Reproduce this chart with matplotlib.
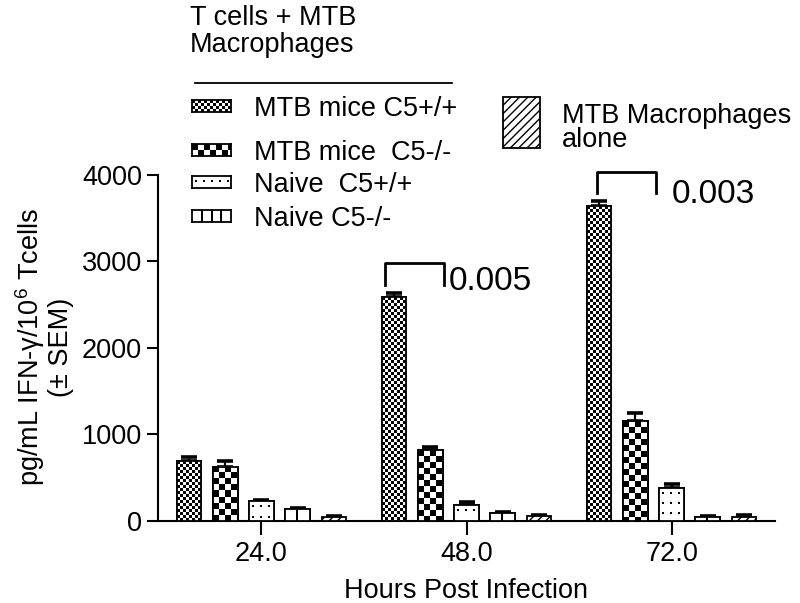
import numpy as np
import matplotlib
matplotlib.use('Agg')
import matplotlib.pyplot as plt
from matplotlib.patches import Rectangle
from matplotlib.lines import Line2D

plt.rcParams['font.family'] = ['Liberation Sans', 'DejaVu Sans']
plt.rcParams['mathtext.fontset'] = 'custom'
plt.rcParams['mathtext.rm'] = 'Liberation Sans'
plt.rcParams['mathtext.it'] = 'Liberation Sans:italic'
plt.rcParams['hatch.linewidth'] = 1.0

# ---------------- data ----------------
hours = [24, 48, 72]
hour_labels = ["24.0", "48.0", "72.0"]
series_names = ["MTB mice C5+/+", "MTB mice  C5-/-", "Naive  C5+/+", "Naive C5-/-"]
alone_name = ["MTB Macrophages", "alone"]
legend_title = ["T cells + MTB", "Macrophages"]
mtb_c5pos = [691, 2585, 3640]
mtb_c5neg = [625, 818, 1157]
naive_c5pos = [224, 185, 377]
naive_c5neg = [132, 89, 39]
macro_alone = [39, 54, 46]
sem_mtb_c5pos = [42, 53, 60]
sem_mtb_c5neg = [66, 35, 93]
sem_naive_c5pos = [19, 35, 45]
sem_naive_c5neg = [15, 15, 15]
sem_macro_alone = [15, 8, 16]
y_ticks = [0, 1000, 2000, 3000, 4000]
p_values = ["0.005", "0.003"]

FS = 19.5
W, H = 800, 603
fig = plt.figure(figsize=(W / 100, H / 100), dpi=100)


def fx(px):
    return px / W


def fy(py):
    return 1 - py / H


ax = fig.add_axes([fx(158), fy(520.7), fx(775) - fx(158), fy(175) - fy(520.7)])
ax.set_xlim(11.9, 84.1)
ax.set_ylim(0, 4000)
ax.set_autoscale_on(False)


# ---------------- fill patterns ----------------
def checker(h, w, s):
    i = np.arange(h)[:, None]
    j = np.arange(w)[None, :]
    return (((i // s) + (j // s)) % 2).astype(float)


def fine_checker(h, w):
    return checker(h, w, 3)


def big_checker(h, w):
    return checker(h, w, 6)


def dots(h, w, sx=8, sy=10):
    a = np.ones((h, w))
    for i in range(4, h - 2, sy):
        for j in range(3, w - 2, sx):
            a[i:i + 2, j:j + 2] = 0
    return a


def vlines_bar(h, w):
    a = np.ones((h, w))
    c = w // 2
    a[:, c - 1:c + 1] = 0
    return a


def vlines_legend(h, w):
    a = np.ones((h, w))
    for f in (0.25, 0.5, 0.75):
        c = int(round(w * f))
        a[:, c - 1:c + 1] = 0
    return a


pitch = 4.24
width = 2.89
series = [
    (mtb_c5pos, sem_mtb_c5pos, fine_checker),
    (mtb_c5neg, sem_mtb_c5neg, big_checker),
    (naive_c5pos, sem_naive_c5pos, dots),
    (naive_c5neg, sem_naive_c5neg, vlines_bar),
    (macro_alone, sem_macro_alone, None),
]

for k, (vals, errs, pat) in enumerate(series):
    xs = np.array(hours, dtype=float) + (k - 2) * pitch
    ax.errorbar(xs, vals, yerr=[np.zeros(len(vals)), errs], fmt='none',
                ecolor='black', elinewidth=1.6, capsize=5.5, capthick=2.6, zorder=2)
    if pat is None:
        ax.bar(xs, vals, width, facecolor='white', edgecolor='black',
               linewidth=1.3, hatch='////', zorder=4)
    else:
        ax.bar(xs, vals, width, facecolor='white', edgecolor='black',
               linewidth=1.3, zorder=2.5)
        for x, v in zip(xs, vals):
            x0, x1 = x - width / 2, x + width / 2
            p0 = ax.transData.transform((x0, 0))
            p1 = ax.transData.transform((x1, v))
            w = max(1, int(round(p1[0] - p0[0])))
            h = max(1, int(round(p1[1] - p0[1])))
            ax.imshow(pat(h, w), extent=(x0, x1, 0, v), cmap='gray', vmin=0, vmax=1,
                      interpolation='nearest', aspect='auto', zorder=3)
        ax.bar(xs, vals, width, fill=False, edgecolor='black', linewidth=1.3, zorder=4)

ax.set_xlim(11.9, 84.1)
ax.set_ylim(0, 4000)

# ---------------- axes styling ----------------
for s in ('top', 'right'):
    ax.spines[s].set_visible(False)
for s in ('left', 'bottom'):
    ax.spines[s].set_linewidth(1.5)
ax.set_xticks(hours)
ax.set_xticklabels(hour_labels)
ax.set_yticks(y_ticks)
ax.set_yticklabels([str(t) for t in y_ticks])
ax.tick_params(axis='x', length=10, width=1.5, pad=4.5, labelsize=FS)
ax.tick_params(axis='y', length=8, width=1.5, pad=3.6, labelsize=FS)

fig.text(fx(466.5), fy(598), 'Hours Post Infection', ha='center', va='baseline', fontsize=FS)
fig.text(fx(44), fy(347), 'pg/mL IFN-γ/10$^6$ Tcells\n(± SEM)', rotation=90,
         ha='center', va='center', fontsize=FS, linespacing=1.05, multialignment='center')

# ---------------- significance brackets ----------------
ax.plot([38.47, 38.47, 45.31, 45.31], [2727, 2985, 2985, 2727], color='black', lw=2, clip_on=False)
ax.text(45.96, 2669, p_values[0], fontsize=24, ha='left', va='baseline')
ax.plot([63.29, 63.29, 70.16, 70.16], [3788, 4038, 4038, 3788], color='black', lw=2, clip_on=False)
ax.text(72.0, 3679, p_values[1], fontsize=24, ha='left', va='baseline')

# ---------------- legend ----------------
fig.text(fx(190), fy(25), legend_title[0], fontsize=FS, va='baseline')
fig.text(fx(190), fy(52), legend_title[1], fontsize=FS, va='baseline')
fig.add_artist(Line2D([fx(195), fx(452)], [fy(83), fy(83)], color='black', lw=1.3))


def legend_patch(px0, py0, px1, py1, fn):
    a = fig.add_axes([fx(px0), fy(py1), fx(px1) - fx(px0), fy(py0) - fy(py1)])
    h = int(round(py1 - py0))
    w = int(round(px1 - px0))
    a.imshow(fn(h, w), cmap='gray', vmin=0, vmax=1, interpolation='nearest', aspect='auto')
    a.set_xticks([])
    a.set_yticks([])
    for s in a.spines.values():
        s.set_linewidth(1.3)


row_base = [116, 160, 192, 226]
row_fns = [fine_checker, big_checker, dots, vlines_legend]
for name, base, fn in zip(series_names, row_base, row_fns):
    cy = base - 10
    legend_patch(192, cy - 6, 231, cy + 6, fn)
    fig.text(fx(254), fy(base), name, fontsize=FS, va='baseline')

fig.add_artist(Rectangle((fx(503), fy(148)), fx(540) - fx(503), fy(97) - fy(148),
                         transform=fig.transFigure, facecolor='white', edgecolor='black',
                         hatch='////', lw=1.3))
fig.text(fx(562), fy(123), alone_name[0], fontsize=FS, va='baseline')
fig.text(fx(562), fy(147), alone_name[1], fontsize=FS, va='baseline')

fig.savefig('out.png', dpi=100)
